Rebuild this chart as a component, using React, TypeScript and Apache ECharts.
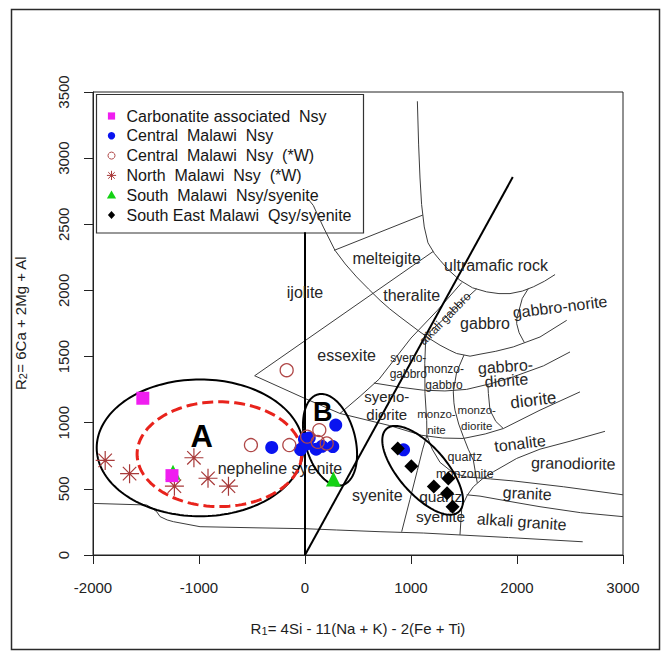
import React, { useEffect, useRef } from 'react';
import * as echarts from 'echarts';

const FONT = '"Liberation Sans", Arial, Helvetica, sans-serif';

// Axis ranges (R1 horizontal, R2 vertical)
const xRange = [-2000, 3000];
const xStep = 1000;
const yRange = [0, 3500];
const yStep = 500;

// Sample groups, [R1, R2]
const carbonatiteNsy = [[-1530, 1185], [-1255, 600]];
const centralNsy = [[-314, 813], [-42, 797], [-5, 875], [40, 885], [20, 840], [105, 800], [160, 822], [262, 820], [290, 982], [930, 795]];
const centralNsyW = [[-173, 1397], [-510, 831], [-148, 831], [135, 944], [20, 895], [120, 855], [205, 843]];
const northNsyW = [[-1885, 715], [-1655, 615], [-1048, 735], [-915, 580], [-722, 520], [-1232, 520]];
const southNsySy = [[-1245, 625], [268, 575]];
const southEastQsy = [[875, 805], [1003, 671], [1352, 579], [1215, 517], [1340, 466], [1392, 364]];

const groupNames = [
  'Carbonatite associated  Nsy',
  'Central  Malawi  Nsy',
  'Central  Malawi  Nsy  (*W)',
  'North  Malawi  Nsy  (*W)',
  'South  Malawi  Nsy/syenite',
  'South East Malawi  Qsy/syenite',
];

// R1-R2 classification boundaries
const boundaryBold = [
  [[0, 0], [0, 2440]],
  [[0, 0], [1960, 2857]],
];

const boundaryThin = [
  // lower limit of the diagram
  [[-2000, 390], [-1493, 378], [-1440, 352], [-1399, 327], [-1367, 290], [-1300, 265], [-1242, 252], [-990, 214], [-500, 206], [0, 199], [299, 189], [708, 176], [1120, 166], [1920, 132], [2620, 100]],
  // ijolite / essexite
  [[-475, 1355], [1210, 2295]],
  // essexite lower edge, base of syeno-diorite .. diorite
  [[-475, 1355], [0, 1183], [330, 1070], [800, 978], [1100, 905], [1300, 884], [1494, 881], [1700, 915], [1871, 956], [2217, 1095], [2594, 1233]],
  // ultramafic rock
  [[1060, 3430], [1072, 3100], [1085, 2850], [1100, 2650], [1125, 2480], [1160, 2360], [1220, 2280], [1274, 2228], [1360, 2150], [1462, 2077], [1580, 2020], [1714, 1989], [1830, 1976], [1934, 1976], [2050, 1995], [2154, 2027], [2260, 2070], [2359, 2120]],
  // melteigite top
  [[275, 2303], [1112, 2570]],
  // ijolite - melteigite - theralite - gabbro base
  [[30, 2690], [78, 2643], [173, 2479], [283, 2303], [380, 2200], [487, 2102], [600, 2010], [708, 1925], [800, 1860], [896, 1800], [1085, 1686], [1180, 1633], [1274, 1586], [1360, 1550], [1431, 1523], [1557, 1503], [1651, 1518], [1800, 1540], [1965, 1573], [2217, 1648], [2469, 1774]],
  // gabbro / gabbro-norite
  [[2107, 2014], [2050, 1940], [2028, 1875], [2000, 1800], [1997, 1749], [2020, 1680], [2070, 1605]],
  // alkali gabbro, left edge
  [[330, 1070], [520, 1200], [700, 1330], [1000, 1640], [1250, 1850], [1480, 2060]],
  // alkali gabbro right edge, syeno- / monzo-, syenite / quartz syenite
  [[1620, 2012], [1140, 1660], [1130, 1450], [1132, 1221], [1148, 1019], [1150, 905], [1110, 800], [1060, 640], [990, 420], [912, 176]],
  // base of syeno-gabbro, monzo-gabbro, gabbro-diorite
  [[650, 1300], [900, 1268], [1116, 1246], [1320, 1240], [1525, 1252], [1750, 1295], [1965, 1347], [2250, 1430], [2500, 1535]],
  // monzo- / gabbro-diorite, monzo-diorite
  [[1500, 1512], [1430, 1380], [1399, 1233], [1405, 1150], [1415, 1095], [1450, 990], [1494, 894], [1540, 800], [1588, 717], [1625, 545]],
  // monzo-diorite / diorite
  [[1725, 1292], [1730, 1221], [1745, 1095], [1800, 1010], [1871, 956]],
  // quartz syenite / alkali granite, tonalite / granodiorite
  [[1462, 152], [1470, 250], [1480, 365], [1530, 450], [1588, 516], [1680, 580], [1777, 629], [1997, 730], [2217, 800], [2500, 860], [2830, 935]],
  // quartz monzonite, granodiorite / granite
  [[1150, 905], [1200, 800], [1274, 700], [1400, 620], [1525, 590], [1750, 575], [1965, 560], [2437, 516], [3000, 455]],
  // granite / alkali granite
  [[1525, 455], [1651, 445], [2000, 395], [2217, 365], [2600, 320], [3000, 290]],
];

// Group outlines: [centre R1, centre R2, half-width (R1), half-height (R2), tilt deg]
const outlineSolid = [
  [-990, 810, 975, 517, 0],
  [236, 871, 236, 355, 15],
  [1110, 640, 519, 181, -49],
];
const outlineDashed = [[-808, 762, 776, 396, 0]];

// Field names with their anchors in R1-R2 units
const fieldNames = [
  'melteigite', 'ultramafic rock', 'ijolite', 'theralite', 'alkali gabbro', 'gabbro', 'gabbro-norite',
  'essexite', 'syeno-\ngabbro', 'monzo-\ngabbro', 'gabbro-\ndiorite', 'syeno-\ndiorite', 'monzo-\nnite',
  'monzo-\ndiorite', 'diorite', 'tonalite', 'granodiorite', 'nepheline syenite', 'syenite',
  'quartz\nmonzonite', 'quartz\nsyenite', 'granite', 'alkali granite', 'A', 'B',
];
const fieldR1 = [770, 1802, 0, 1006, 1321, 1698, 2406, 393, 975, 1311, 1896, 771, 1240, 1620, 2154, 2028, 2531, -236, 682, 1509, 1280, 2097, 2044, -974, 167];
const fieldR2 = [2240, 2190, 1988, 1958, 1787, 1749, 1875, 1510, 1427, 1346, 1372, 1130, 1006, 1032, 1170, 843, 692, 654, 453, 680, 365, 465, 251, 894, 1082];
const fieldSize = [16, 16, 16, 16, 12, 16, 16, 16, 12, 12, 16, 15, 11.5, 11.5, 17, 16, 16, 16, 16, 12.5, 15.5, 16, 16, 31, 27];
const fieldLineH = [18, 18, 18, 18, 14, 18, 18, 18, 16, 16, 14, 18, 16, 16, 18, 18, 18, 18, 18, 17, 20, 18, 18, 32, 28];
const fieldTilt = [0, 0, 0, 0, 46, 0, 7, 0, 0, 0, 4, 0, 0, 0, 7, 7, -1, 0, 0, 0, 0, -3, -4, 0, 0];
const fieldBold = [0, 0, 0, 0, 0, 0, 0, 0, 0, 0, 0, 0, 0, 0, 0, 0, 0, 0, 0, 0, 0, 0, 0, 1, 1];

const ASTERISK = 'path://M0,-10L0,10M-10,0L10,0M-7.07,-7.07L7.07,7.07M-7.07,7.07L7.07,-7.07';

const COL = {
  magenta: '#f01ef0',
  blue: '#0a14f0',
  brown: '#b04848',
  star: '#a83a3a',
  green: '#14d214',
  black: '#000000',
  line: '#3c3c3c',
  text: '#262626',
};

function ellipseRenderer(stroke: string, lineWidth: number, lineDash?: number[]) {
  return (params: any, api: any) => {
    const c = api.coord([api.value(0), api.value(1)]);
    const s = api.size([api.value(2), api.value(3)]);
    const th = (api.value(4) * Math.PI) / 180;
    const pts: number[][] = [];
    const n = 160;
    for (let k = 0; k <= n; k++) {
      const t = (k / n) * Math.PI * 2;
      const ux = s[0] * Math.cos(t);
      const uy = s[1] * Math.sin(t);
      pts.push([c[0] + ux * Math.cos(th) + uy * Math.sin(th), c[1] - ux * Math.sin(th) + uy * Math.cos(th)]);
    }
    return {
      type: 'polyline',
      shape: { points: pts },
      style: { fill: 'none', stroke, lineWidth, lineDash: lineDash || null },
    };
  };
}

function legendGraphic() {
  const x0 = 96.5;
  const y0 = 94.5;
  const mx = 111.5;
  const tx = 126.5;
  const rowY = (i: number) => 116 + i * 19.8;
  const els: any[] = [
    { type: 'rect', shape: { x: x0, y: y0, width: 267, height: 138.5 }, style: { fill: 'none', stroke: '#333', lineWidth: 1.2 } },
  ];
  const y = [0, 1, 2, 3, 4, 5].map(rowY);
  els.push({ type: 'rect', shape: { x: mx - 3.6, y: y[0] - 3.6, width: 7.2, height: 7.2 }, style: { fill: COL.magenta } });
  els.push({ type: 'circle', shape: { cx: mx, cy: y[1], r: 3.7 }, style: { fill: COL.blue } });
  els.push({ type: 'circle', shape: { cx: mx, cy: y[2], r: 3.5 }, style: { fill: 'none', stroke: COL.brown, lineWidth: 1 } });
  const a = 4.6;
  const d = a * 0.707;
  [[0, -a, 0, a], [-a, 0, a, 0], [-d, -d, d, d], [-d, d, d, -d]].forEach((l) => {
    els.push({ type: 'line', shape: { x1: mx + l[0], y1: y[3] + l[1], x2: mx + l[2], y2: y[3] + l[3] }, style: { stroke: COL.star, lineWidth: 1 } });
  });
  els.push({ type: 'polygon', shape: { points: [[mx, y[4] - 4.6], [mx - 4.6, y[4] + 3.4], [mx + 4.6, y[4] + 3.4]] }, style: { fill: COL.green } });
  els.push({ type: 'polygon', shape: { points: [[mx, y[5] - 4], [mx + 3.6, y[5]], [mx, y[5] + 4], [mx - 3.6, y[5]]] }, style: { fill: COL.black } });
  groupNames.forEach((name, i) => {
    els.push({
      type: 'text',
      x: tx,
      y: y[i],
      style: {
        text: name, fill: '#161616', fontSize: 16, fontFamily: FONT,
        align: 'left', verticalAlign: 'middle', textAlign: 'left', textVerticalAlign: 'middle',
      },
    });
  });
  return els;
}

function axisTitle(x: number, y: number, rot: number, head: string, sub: string, rest: string) {
  return {
    type: 'text',
    x,
    y,
    rotation: rot,
    style: {
      text: `{m|${head}}{s|${sub}}{m|${rest}}`,
      fill: '#1e1e1e',
      fontFamily: FONT,
      fontSize: 15,
      align: 'center',
      verticalAlign: 'middle',
      textAlign: 'center',
      textVerticalAlign: 'middle',
      rich: {
        m: { fontSize: 15, lineHeight: 16, fontFamily: FONT, fill: '#1e1e1e' },
        s: { fontSize: 11, lineHeight: 6, verticalAlign: 'bottom', fontFamily: FONT, fill: '#1e1e1e' },
      },
    },
  };
}

function buildOption() {
  const series: any[] = [];
  boundaryThin.forEach((pts) => {
    series.push({
      type: 'line', data: pts, symbol: 'none', showSymbol: false, silent: true, z: 1,
      lineStyle: { color: COL.line, width: 1 },
    });
  });
  boundaryBold.forEach((pts) => {
    series.push({
      type: 'line', data: pts, symbol: 'none', showSymbol: false, silent: true, z: 1,
      lineStyle: { color: '#000', width: 2 },
    });
  });
  series.push({
    type: 'custom',
    silent: true,
    z: 2,
    data: fieldNames.map((_, i) => [fieldR1[i], fieldR2[i], i]),
    renderItem: (params: any, api: any) => {
      const i = api.value(2) as number;
      const p = api.coord([api.value(0), api.value(1)]);
      return {
        type: 'text',
        x: p[0],
        y: p[1],
        rotation: (fieldTilt[i] * Math.PI) / 180,
        style: {
          text: fieldNames[i],
          fill: fieldBold[i] ? '#000' : COL.text,
          fontSize: fieldSize[i],
          fontWeight: fieldBold[i] ? 'bold' : 'normal',
          fontFamily: FONT,
          lineHeight: fieldLineH[i],
          align: 'center',
          verticalAlign: 'middle',
          textAlign: 'center',
          textVerticalAlign: 'middle',
        },
      };
    },
  });
  series.push({ type: 'custom', silent: true, z: 3, data: outlineSolid, renderItem: ellipseRenderer('#000', 2) });
  series.push({ type: 'custom', silent: true, z: 3, data: outlineDashed, renderItem: ellipseRenderer('#e8231c', 3, [11, 5]) });

  series.push({
    type: 'scatter', name: groupNames[3], data: northNsyW, symbol: ASTERISK, symbolSize: 19, z: 4, silent: true,
    itemStyle: { color: 'rgba(0,0,0,0)', borderColor: COL.star, borderWidth: 1.2, opacity: 1 },
  });
  series.push({
    type: 'scatter', name: groupNames[4], data: southNsySy, symbol: 'triangle', symbolSize: 15, z: 4, silent: true,
    itemStyle: { color: COL.green, opacity: 1 },
  });
  series.push({
    type: 'scatter', name: groupNames[0], data: carbonatiteNsy, symbol: 'rect', symbolSize: 13, z: 4, silent: true,
    itemStyle: { color: COL.magenta, opacity: 1 },
  });
  series.push({
    type: 'scatter', name: groupNames[1], data: centralNsy, symbol: 'circle', symbolSize: 13, z: 4, silent: true,
    itemStyle: { color: COL.blue, opacity: 1 },
  });
  series.push({
    type: 'scatter', name: groupNames[2], data: centralNsyW, symbol: 'circle', symbolSize: 13, z: 4, silent: true,
    itemStyle: { color: 'rgba(0,0,0,0)', borderColor: COL.brown, borderWidth: 1.3, opacity: 1 },
  });
  series.push({
    type: 'scatter', name: groupNames[5], data: southEastQsy, symbol: 'diamond', symbolSize: 14, z: 4, silent: true,
    itemStyle: { color: COL.black, opacity: 1 },
  });

  const axisCommon = {
    type: 'value',
    splitLine: { show: false },
    axisLine: { show: true, onZero: false, lineStyle: { color: '#222', width: 1 } },
    axisTick: { show: true, inside: false, length: 9, lineStyle: { color: '#222', width: 1 } },
  };
  const plain = (v: number) => String(v);

  return {
    animation: false,
    backgroundColor: '#ffffff',
    grid: { left: 93, top: 92, width: 530, height: 463, show: true, borderColor: '#222', borderWidth: 1, backgroundColor: 'transparent' },
    xAxis: {
      ...axisCommon,
      min: xRange[0],
      max: xRange[1],
      interval: xStep,
      axisLabel: { fontSize: 15, color: '#222', fontFamily: FONT, margin: 25, formatter: plain },
    },
    yAxis: {
      ...axisCommon,
      min: yRange[0],
      max: yRange[1],
      interval: yStep,
      axisLabel: { fontSize: 15, color: '#222', fontFamily: FONT, margin: 22, rotate: 90, formatter: plain },
    },
    graphic: [
      { type: 'rect', shape: { x: 11.5, y: 9.5, width: 648, height: 640 }, style: { fill: 'none', stroke: '#2a2a2a', lineWidth: 1.5 }, z: 0 },
      ...legendGraphic(),
      axisTitle(358, 628, 0, 'R', '1', '= 4Si - 11(Na + K) - 2(Fe + Ti)'),
      axisTitle(20, 323, Math.PI / 2, 'R', '2', '= 6Ca + 2Mg + Al'),
    ],
    series,
  };
}

export default function App() {
  const ref = useRef<HTMLDivElement>(null);
  useEffect(() => {
    if (!ref.current) return;
    const chart = echarts.init(ref.current, null, { renderer: 'svg' });
    chart.setOption(buildOption() as any);
    return () => chart.dispose();
  }, []);
  return (
    <div
      ref={ref}
      style={{ position: 'absolute', left: 0, top: 0, width: 665, height: 655, background: '#fff' }}
    />
  );
}
